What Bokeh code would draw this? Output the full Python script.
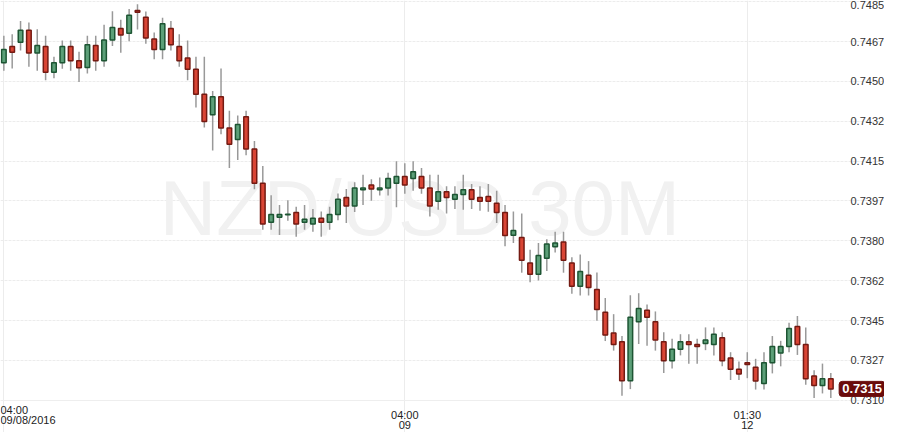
from bokeh.plotting import figure
from bokeh.models import ColumnDataSource, FixedTicker, Label, Range1d
from bokeh.embed import file_html
from bokeh.resources import INLINE

title_text = "NZD/USD 30M"
last_price_text = "0.7315"
last_price = 0.7315

opens = [0.74582, 0.74653, 0.74672, 0.74724, 0.74624, 0.74653, 0.74540, 0.74582, 0.74653, 0.74590,
         0.74561, 0.74657, 0.74590, 0.74682, 0.74732, 0.74711, 0.74811, 0.74782, 0.74686, 0.74640,
         0.74732, 0.74653, 0.74603, 0.74553, 0.74443, 0.74353, 0.74432, 0.74295, 0.74245, 0.74345,
         0.74203, 0.74053, 0.73882, 0.73903, 0.73914, 0.73924, 0.73882, 0.73874, 0.73899, 0.73882,
         0.73915, 0.73990, 0.73953, 0.74024, 0.74045, 0.74024, 0.74032, 0.74053, 0.74082, 0.74074,
         0.74082, 0.74032, 0.73974, 0.74015, 0.73982, 0.74003, 0.74024, 0.73990, 0.73995, 0.73965,
         0.73924, 0.73824, 0.73815, 0.73703, 0.73653, 0.73724, 0.73774, 0.73795, 0.73703, 0.73601,
         0.73649, 0.73586, 0.73486, 0.73395, 0.73357, 0.73186, 0.73445, 0.73495, 0.73445, 0.73357,
         0.73274, 0.73324, 0.73357, 0.73345, 0.73349, 0.73345, 0.73374, 0.73286, 0.73236, 0.73265,
         0.73245, 0.73174, 0.73265, 0.73307, 0.73336, 0.73424, 0.73345, 0.73207, 0.73165, 0.73195]

closes = [0.74640, 0.74628, 0.74724, 0.74624, 0.74657, 0.74540, 0.74582, 0.74653, 0.74590, 0.74560,
          0.74661, 0.74590, 0.74682, 0.74736, 0.74703, 0.74790, 0.74803, 0.74690, 0.74640, 0.74753,
          0.74661, 0.74590, 0.74553, 0.74443, 0.74324, 0.74432, 0.74295, 0.74224, 0.74311, 0.74203,
          0.74053, 0.73874, 0.73915, 0.73915, 0.73917, 0.73874, 0.73895, 0.73899, 0.73882, 0.73915,
          0.73982, 0.73953, 0.74032, 0.74032, 0.74028, 0.74032, 0.74074, 0.74082, 0.74045, 0.74103,
          0.74032, 0.73953, 0.74015, 0.73990, 0.74003, 0.74024, 0.73982, 0.73974, 0.73974, 0.73924,
          0.73823, 0.73845, 0.73715, 0.73653, 0.73736, 0.73786, 0.73790, 0.73715, 0.73601, 0.73665,
          0.73595, 0.73499, 0.73386, 0.73345, 0.73186, 0.73465, 0.73503, 0.73465, 0.73365, 0.73274,
          0.73324, 0.73357, 0.73345, 0.73336, 0.73365, 0.73390, 0.73274, 0.73236, 0.73215, 0.73257,
          0.73185, 0.73265, 0.73336, 0.73336, 0.73415, 0.73345, 0.73195, 0.73165, 0.73195, 0.73150]

highs = [0.74700, 0.74707, 0.74765, 0.74758, 0.74729, 0.74700, 0.74608, 0.74679, 0.74679, 0.74630,
         0.74700, 0.74700, 0.74749, 0.74808, 0.74770, 0.74818, 0.74838, 0.74807, 0.74715, 0.74779,
         0.74765, 0.74707, 0.74679, 0.74608, 0.74608, 0.74458, 0.74557, 0.74371, 0.74350, 0.74371,
         0.74238, 0.74129, 0.74000, 0.73957, 0.73978, 0.73950, 0.73957, 0.73940, 0.73929, 0.73950,
         0.74008, 0.74028, 0.74057, 0.74090, 0.74070, 0.74078, 0.74099, 0.74149, 0.74140, 0.74149,
         0.74120, 0.74090, 0.74090, 0.74040, 0.74040, 0.74090, 0.74049, 0.74040, 0.74049, 0.74020,
         0.73957, 0.73929, 0.73920, 0.73761, 0.73790, 0.73807, 0.73840, 0.73840, 0.73728, 0.73740,
         0.73711, 0.73661, 0.73549, 0.73478, 0.73382, 0.73561, 0.73570, 0.73520, 0.73490, 0.73399,
         0.73370, 0.73390, 0.73390, 0.73370, 0.73420, 0.73420, 0.73399, 0.73311, 0.73270, 0.73311,
         0.73282, 0.73311, 0.73382, 0.73361, 0.73440, 0.73470, 0.73420, 0.73232, 0.73261, 0.73220]

lows = [0.74547, 0.74557, 0.74635, 0.74564, 0.74547, 0.74505, 0.74514, 0.74555, 0.74547, 0.74497,
        0.74535, 0.74547, 0.74564, 0.74655, 0.74626, 0.74676, 0.74728, 0.74665, 0.74597, 0.74597,
        0.74635, 0.74564, 0.74505, 0.74385, 0.74297, 0.74197, 0.74268, 0.74120, 0.74155, 0.74176,
        0.74026, 0.73849, 0.73849, 0.73825, 0.73888, 0.73818, 0.73849, 0.73840, 0.73818, 0.73849,
        0.73890, 0.73878, 0.73926, 0.73957, 0.73976, 0.73999, 0.73999, 0.73947, 0.74007, 0.74020,
        0.74007, 0.73907, 0.73936, 0.73920, 0.73940, 0.73936, 0.73940, 0.73932, 0.73928, 0.73878,
        0.73776, 0.73790, 0.73660, 0.73618, 0.73626, 0.73668, 0.73749, 0.73660, 0.73568, 0.73560,
        0.73560, 0.73449, 0.73360, 0.73318, 0.73120, 0.73149, 0.73347, 0.73339, 0.73318, 0.73220,
        0.73239, 0.73297, 0.73260, 0.73260, 0.73320, 0.73297, 0.73249, 0.73189, 0.73189, 0.73197,
        0.73147, 0.73147, 0.73218, 0.73249, 0.73311, 0.73299, 0.73168, 0.73110, 0.73130, 0.73110]

y_ticks = [0.7310, 0.73275, 0.7345, 0.73625, 0.7380, 0.73975, 0.7415, 0.74325, 0.7450, 0.74675, 0.7485]
y_tick_labels = ["0.7310", "0.7327", "0.7345", "0.7362", "0.7380", "0.7397",
                 "0.7415", "0.7432", "0.7450", "0.7467", "0.7485"]
x_grid_ticks = [0, 48, 89]
x_tick_labels = ["04:00\n09/08/2016", "04:00\n09", "01:30\n12"]

GREEN_FILL, GREEN_LINE = "#5c9f78", "#1d5533"
RED_FILL, RED_LINE = "#d94535", "#741a12"

idx = list(range(len(opens)))
up = [c >= o for o, c in zip(opens, closes)]
src = ColumnDataSource(dict(
    x=idx, open=opens, close=closes, high=highs, low=lows,
    top=[max(o, c) for o, c in zip(opens, closes)],
    bottom=[min(o, c) for o, c in zip(opens, closes)],
    fill=[GREEN_FILL if u else RED_FILL for u in up],
    line=[GREEN_LINE if u else RED_LINE for u in up],
))

W, H = 884, 432
# price-area edges (the axes sit on these data values)
x_left, x_edge = -0.4, 99.8
y_bottom, y_top = 0.73099, 0.74855
px_x = 837 / (x_edge - x_left)
px_y = 400 / (y_top - y_bottom)
x_right_full = x_left + W / px_x
y_bottom_full = y_top - H / px_y

p = figure(width=W, height=H, output_backend="svg", toolbar_location=None,
           x_range=Range1d(x_left, x_right_full), y_range=Range1d(y_bottom_full, y_top),
           y_axis_location="right", min_border=0)
p.outline_line_color = None
p.background_fill_color = "white"
p.border_fill_color = "white"

# watermark
p.add_layout(Label(x=49.8, y=0.73945, text=title_text, text_align="center",
                   text_baseline="alphabetic", text_font="Liberation Sans",
                   text_font_size="78px", text_color="#f1f1f1", level="underlay"))

# grids
p.xgrid.ticker = FixedTicker(ticks=x_grid_ticks)
p.xgrid.grid_line_color = "#ececec"
p.xgrid.grid_line_width = 1
p.xgrid.bounds = (y_bottom, y_top)
p.ygrid.ticker = FixedTicker(ticks=y_ticks)
p.ygrid.grid_line_color = "#ececec"
p.ygrid.grid_line_dash = "3 1"
p.ygrid.grid_line_width = 1
p.ygrid.bounds = (x_left, x_edge)

# right axis
ya = p.yaxis[0]
ya.fixed_location = x_edge
ya.ticker = FixedTicker(ticks=y_ticks)
ya.major_label_overrides = {t: l for t, l in zip(y_ticks, y_tick_labels)}
ya.axis_line_color = None
ya.major_tick_line_color = None
ya.minor_tick_line_color = None
ya.major_label_standoff = 7
ya.major_label_text_font = "Liberation Sans"
ya.major_label_text_font_size = "11px"
ya.major_label_text_color = "#333333"

# bottom axis
xa = p.xaxis[0]
xa.fixed_location = y_bottom
xa.ticker = FixedTicker(ticks=x_grid_ticks[1:])
xa.major_label_overrides = {t: l for t, l in zip(x_grid_ticks[1:], x_tick_labels[1:])}
xa.axis_line_color = "#eeeeee"
xa.bounds = (x_left, x_edge)
xa.major_tick_line_color = None
xa.minor_tick_line_color = None
xa.major_label_standoff = 2
xa.major_label_text_font = "Liberation Sans"
xa.major_label_text_font_size = "11px"
xa.major_label_text_color = "#222222"
xa.major_label_text_line_height = 0.9

# first date label (left aligned at the chart's left edge)
first_lines = x_tick_labels[0].split("\n")
for k, t in enumerate(first_lines):
    p.add_layout(Label(x=x_left, y=y_bottom - (3 + 10.5 * k) / px_y, text=t, text_align="left",
                       text_baseline="top", text_font="Liberation Sans",
                       text_font_size="11px", text_color="#222222"))

# candles
p.segment(x0="x", y0="low", x1="x", y1="high", source=src, line_color="#999999", line_width=1.5)
p.vbar(x="x", top="top", bottom="bottom", width=0.55, source=src,
       fill_color="fill", line_color="line", line_width=1.5)

# last price tag
p.add_layout(Label(x=x_edge + 0.2, y=last_price, text=last_price_text,
                   text_baseline="middle", text_align="left", text_font="Liberation Sans",
                   text_font_size="13px", text_font_style="bold", text_color="white",
                   background_fill_color="#6a0b0b", border_line_color="#6a0b0b",
                   padding=3, border_radius=3))

open("out.html", "w").write(file_html(p, INLINE))
